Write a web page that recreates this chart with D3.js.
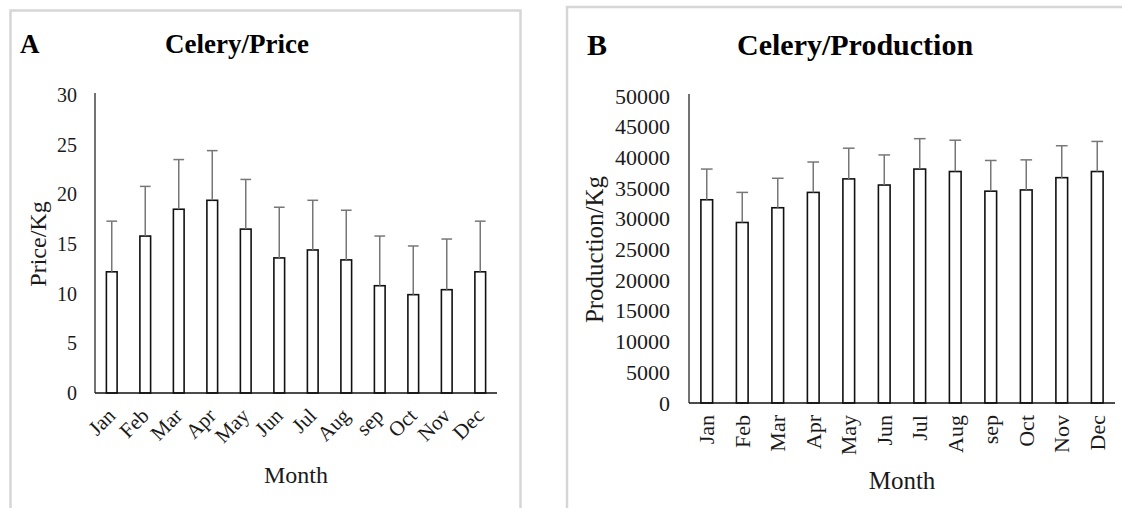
<!DOCTYPE html>
<html>
<head>
<meta charset="utf-8">
<script src="https://cdn.jsdelivr.net/npm/d3@7"></script>
<style>
  html, body { margin: 0; padding: 0; background: #fff; }
  svg { display: block; font-family: "Liberation Serif", "Times New Roman", serif; }
</style>
</head>
<body>
<svg id="chart" width="1122" height="508"></svg>
<script>
// Monthly celery statistics: mean with standard-deviation bars
const months = ["Jan", "Feb", "Mar", "Apr", "May", "Jun", "Jul", "Aug", "sep", "Oct", "Nov", "Dec"];

const priceMean = [12.2, 15.8, 18.5, 19.4, 16.5, 13.6, 14.4, 13.4, 10.8, 9.9, 10.4, 12.2];
const priceErr  = [5.1, 5.0, 5.0, 5.0, 5.0, 5.1, 5.0, 5.0, 5.0, 4.9, 5.1, 5.1];
const priceTicks = [0, 5, 10, 15, 20, 25, 30];

const productionMean = [33100, 29400, 31800, 34300, 36500, 35500, 38100, 37700, 34500, 34700, 36700, 37700];
const productionErr  = [5000, 4900, 4800, 4950, 5000, 4900, 4950, 5100, 5000, 4900, 5200, 4900];
const productionTicks = [0, 5000, 10000, 15000, 20000, 25000, 30000, 35000, 40000, 45000, 50000];

const svg = d3.select("#chart");

function drawPanel(cfg) {
  const g = svg.append("g");

  // panel frame
  g.append("rect")
    .attr("x", cfg.frame[0]).attr("y", cfg.frame[1])
    .attr("width", cfg.frame[2]).attr("height", cfg.frame[3])
    .attr("fill", "#fff").attr("stroke", "#d6d6d6").attr("stroke-width", 2.5);

  const x = d3.scaleBand()
    .domain(months)
    .range([cfg.left, cfg.right])
    .paddingInner(cfg.pad)
    .paddingOuter(cfg.pad / 2);

  const y = d3.scaleLinear()
    .domain([0, d3.max(cfg.ticks)])
    .range([cfg.bottom, cfg.top]);

  const rows = months.map((m, i) => ({ m, v: cfg.mean[i], e: cfg.err[i] }));

  // bars
  g.selectAll("rect.bar").data(rows).join("rect")
    .attr("class", "bar")
    .attr("x", d => x(d.m))
    .attr("y", d => y(d.v))
    .attr("width", x.bandwidth())
    .attr("height", d => y(0) - y(d.v))
    .attr("fill", "#fff")
    .attr("stroke", "#111")
    .attr("stroke-width", 1.6);

  // error bars (upper side only)
  const eb = g.selectAll("g.err").data(rows).join("g").attr("class", "err")
    .attr("stroke", "#777").attr("stroke-width", 1.5);
  eb.append("line")
    .attr("x1", d => x(d.m) + x.bandwidth() / 2)
    .attr("x2", d => x(d.m) + x.bandwidth() / 2)
    .attr("y1", d => y(d.v))
    .attr("y2", d => y(d.v + d.e));
  eb.append("line")
    .attr("x1", d => x(d.m))
    .attr("x2", d => x(d.m) + x.bandwidth())
    .attr("y1", d => y(d.v + d.e))
    .attr("y2", d => y(d.v + d.e));

  // y axis labels
  const yAxis = g.append("g")
    .attr("transform", `translate(${cfg.left},0)`)
    .call(d3.axisLeft(y).tickValues(cfg.ticks).tickSize(0).tickPadding(cfg.tickPad).tickFormat(d3.format("d")));
  yAxis.select(".domain").remove();
  yAxis.selectAll("text")
    .attr("font-family", "Liberation Serif, Times New Roman, serif")
    .attr("font-size", cfg.tickFont)
    .attr("fill", "#1a1a1a");

  // axis lines
  g.append("line")
    .attr("x1", cfg.left).attr("x2", cfg.left)
    .attr("y1", y(d3.max(cfg.ticks)) - 2).attr("y2", y(0))
    .attr("stroke", "#444").attr("stroke-width", 1.5);
  g.append("line")
    .attr("x1", cfg.left).attr("x2", cfg.right)
    .attr("y1", y(0)).attr("y2", y(0))
    .attr("stroke", "#111").attr("stroke-width", 1.5);

  // x axis labels
  const xl = g.append("g").selectAll("text").data(months).join("text")
    .attr("font-size", cfg.xFont)
    .attr("fill", "#1a1a1a")
    .attr("text-anchor", "end")
    .text(d => d);
  if (cfg.rotate === -45) {
    xl.attr("transform", d => `translate(${x(d) + x.bandwidth() / 2 + 5},${y(0) + 24}) rotate(-45)`);
  } else {
    xl.attr("transform", d => `translate(${x(d) + x.bandwidth() / 2},${y(0) + 12}) rotate(-90)`)
      .attr("dy", "0.35em");
  }

  // titles
  g.append("text")
    .attr("x", cfg.letterPos[0]).attr("y", cfg.letterPos[1])
    .attr("font-size", cfg.titleFont).attr("font-weight", "bold").attr("fill", "#000")
    .text(cfg.letter);
  g.append("text")
    .attr("x", cfg.titlePos[0]).attr("y", cfg.titlePos[1])
    .attr("font-size", cfg.titleFont).attr("font-weight", "bold").attr("fill", "#000")
    .text(cfg.title);

  // axis titles
  g.append("text")
    .attr("transform", `translate(${cfg.yTitleX},${(cfg.top + cfg.bottom) / 2}) rotate(-90)`)
    .attr("text-anchor", "middle").attr("dy", "0.35em")
    .attr("font-size", cfg.axisFont).attr("fill", "#1a1a1a")
    .text(cfg.yTitle);
  g.append("text")
    .attr("x", (cfg.left + cfg.right) / 2).attr("y", cfg.xTitleY)
    .attr("text-anchor", "middle")
    .attr("font-size", cfg.axisFont).attr("fill", "#1a1a1a")
    .text("Month");
}

drawPanel({
  frame: [10.5, 10.5, 510, 520],
  left: 95, right: 497, top: 95, bottom: 393, pad: 0.68,
  mean: priceMean, err: priceErr, ticks: priceTicks,
  tickFont: 20, tickPad: 18, xFont: 21, rotate: -45,
  letter: "A", letterPos: [20, 53], title: "Celery/Price", titlePos: [165, 53], titleFont: 27,
  yTitle: "Price/Kg", yTitleX: 38, axisFont: 24, xTitleY: 483
});

drawPanel({
  frame: [567, 7, 580, 520],
  left: 689, right: 1115, top: 96, bottom: 403, pad: 0.67,
  mean: productionMean, err: productionErr, ticks: productionTicks,
  tickFont: 22, tickPad: 19, xFont: 22, rotate: -90,
  letter: "B", letterPos: [587, 55], title: "Celery/Production", titlePos: [737, 55], titleFont: 30,
  yTitle: "Production/Kg", yTitleX: 594, axisFont: 25, xTitleY: 489
});
</script>
</body>
</html>
